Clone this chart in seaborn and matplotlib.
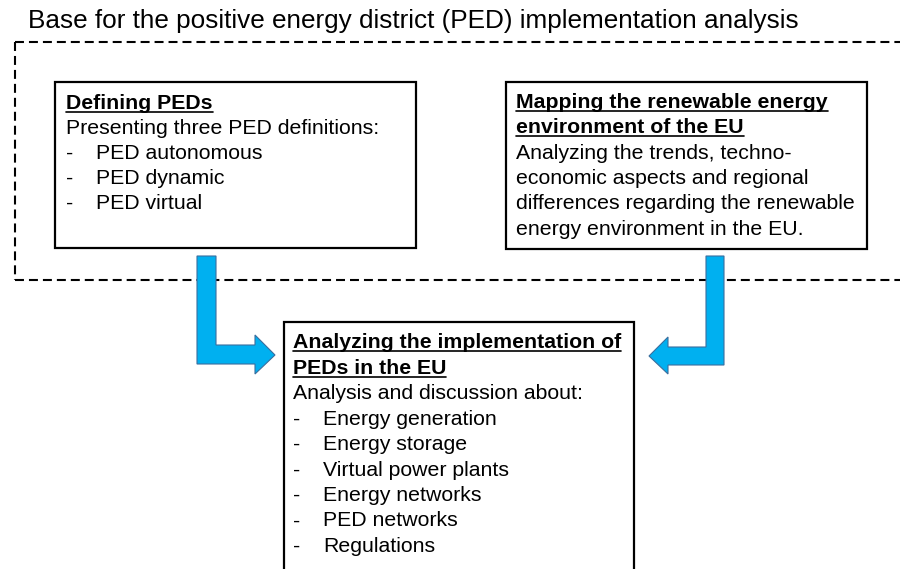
import seaborn as sns
import matplotlib.pyplot as plt
from matplotlib.patches import Rectangle, Polygon

sns.set_theme(style="white")
plt.rcParams["font.family"] = ["Liberation Sans", "DejaVu Sans"]

# text content of the diagram
title = "Base for the positive energy district (PED) implementation analysis"
ped_head = ["Defining PEDs"]
ped_body = ["Presenting three PED definitions:"]
ped_items = ["PED autonomous", "PED dynamic", "PED virtual"]
map_head = ["Mapping the renewable energy", "environment of the EU"]
map_body = ["Analyzing the trends, techno-", "economic aspects and regional",
            "differences regarding the renewable", "energy environment in the EU."]
impl_head = ["Analyzing the implementation of", "PEDs in the EU"]
impl_body = ["Analysis and discussion about:"]
impl_items = ["Energy generation", "Energy storage", "Virtual power plants",
              "Energy networks", "PED networks", "Regulations"]

ARROW = "#00B0F0"
ARROW_EDGE = "#3A6E9E"

fig, ax = plt.subplots(figsize=(9, 5.69), dpi=100)
ax.set_position([0, 0, 1, 1])
ax.set_xlim(0, 900)
ax.set_ylim(569, 0)
ax.axis("off")

# title
ax.text(28, 28, title, fontsize=18.8, color="black", va="baseline", ha="left")

# dashed frame (runs off the right edge)
dash = (0, (4.3, 2.4))
ax.plot([15, 905], [42, 42], color="black", lw=1.5, linestyle=dash, zorder=1)
ax.plot([15, 15], [42, 280], color="black", lw=1.5, linestyle=dash, zorder=1)
ax.plot([15, 905], [280, 280], color="black", lw=1.5, linestyle=dash, zorder=1)

# boxes
for x0, y0, x1, y1 in [(55, 82, 416, 248), (506, 82, 867, 249), (284, 322, 634, 620)]:
    ax.add_patch(Rectangle((x0, y0), x1 - x0, y1 - y0, facecolor="white",
                           edgecolor="black", lw=1.6, zorder=2))

# L-shaped arrows
left_arrow = [(197, 256), (216, 256), (216, 345), (255, 345), (255, 335), (275, 355),
              (255, 374), (255, 364), (197, 364)]
right_arrow = [(706, 256), (724, 256), (724, 365), (668, 365), (668, 374), (649, 356),
               (668, 337), (668, 347), (706, 347)]
for pts in [left_arrow, right_arrow]:
    ax.add_patch(Polygon(pts, closed=True, facecolor=ARROW, edgecolor=ARROW_EDGE,
                         lw=0.8, zorder=3))

heads = []


def write_block(x, y0, step, head, body, items, size=15.3):
    y = y0
    for line in head:
        t = ax.text(x, y, line, fontsize=size, fontweight="bold", va="baseline",
                    ha="left", color="black", zorder=4)
        heads.append((t, y))
        y += step
    for line in body:
        ax.text(x, y, line, fontsize=size, va="baseline", ha="left", color="black", zorder=4)
        y += step
    for line in items:
        ax.text(x, y, "-", fontsize=size, va="baseline", ha="left", color="black", zorder=4)
        ax.text(x + 30, y, line, fontsize=size, va="baseline", ha="left", color="black", zorder=4)
        y += step


write_block(66, 109, 25.0, ped_head, ped_body, ped_items)
write_block(516, 108, 25.3, map_head, map_body, [])
write_block(293, 348, 25.5, impl_head, impl_body, impl_items)

# underline the bold headings
fig.canvas.draw()
renderer = fig.canvas.get_renderer()
inv = ax.transData.inverted()
for t, y in heads:
    bb = t.get_window_extent(renderer)
    (xa, _), (xb, _) = inv.transform([[bb.x0, bb.y0], [bb.x1, bb.y1]])
    ax.plot([xa, xb], [y + 3, y + 3], color="black", lw=1.2, zorder=4)

fig.savefig("out.png", dpi=100)
